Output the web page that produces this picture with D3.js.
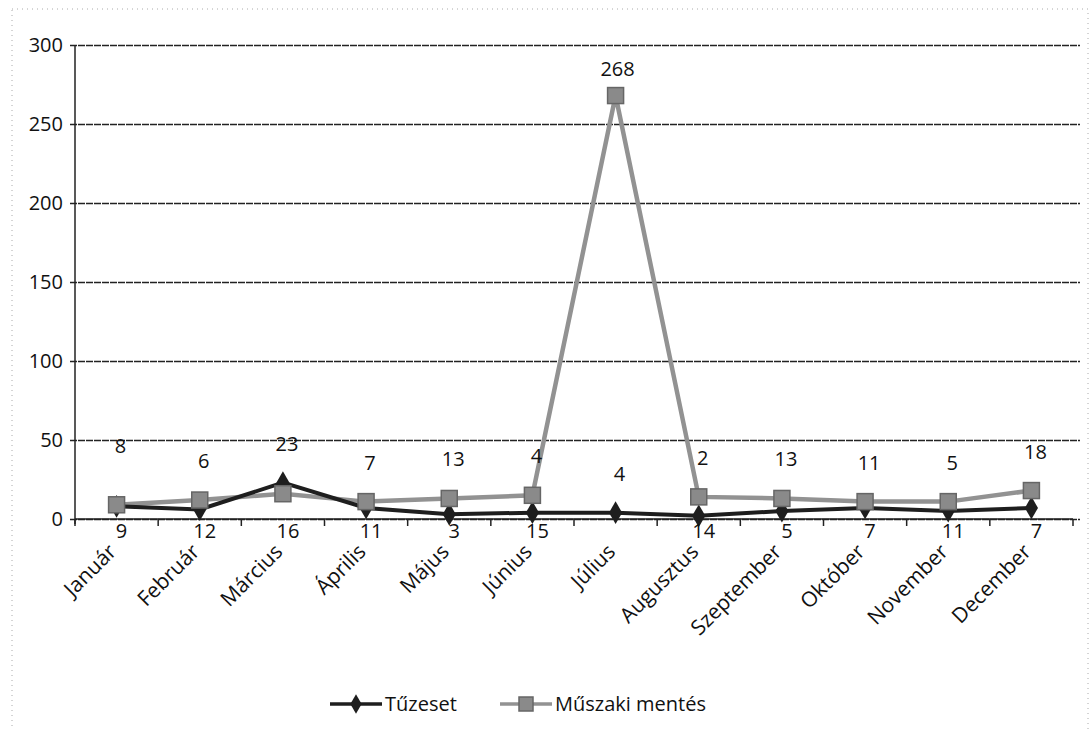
<!doctype html>
<html>
<head>
<meta charset="utf-8">
<script src="https://d3js.org/d3.v7.min.js"></script>
<style>
  body { margin: 0; background: #fff; }
  svg { font-family: "Open Sans", sans-serif; }
</style>
</head>
<body>
<svg id="chart" width="1090" height="730"></svg>
<script>
// months on the x axis
const months = ["Január", "Február", "Március", "Április", "Május", "Június",
  "Július", "Augusztus", "Szeptember", "Október", "November", "December"];
// series values
const tuzeset = [8, 6, 23, 7, 3, 4, 4, 2, 5, 7, 5, 7];
const muszaki = [9, 12, 16, 11, 13, 15, 268, 14, 13, 11, 11, 18];
// data labels as printed on the chart (upper row / lower row)
const upperLabels = ["8", "6", "23", "7", "13", "4", "4", "2", "13", "11", "5", "18"];
const lowerLabels = ["9", "12", "16", "11", "3", "15", "268", "14", "5", "7", "11", "7"];
const yTicks = [0, 50, 100, 150, 200, 250, 300];
const seriesNames = ["Tűzeset", "Műszaki mentés"];

const svg = d3.select("#chart");

// faint dotted page border from the scan
svg.append("rect")
  .attr("x", 12).attr("y", 9).attr("width", 1076).attr("height", 740)
  .attr("fill", "none").attr("stroke", "#aaa")
  .attr("stroke-width", 1).attr("stroke-dasharray", "1,4");

const x = d3.scaleBand().domain(months).range([75, 1073]);
const y = d3.scaleLinear().domain([0, 300]).range([519, 45]);
const cx = d => x(d) + x.bandwidth() / 2;

// gridlines + y axis
const yAxis = svg.append("g")
  .attr("transform", "translate(75,0)")
  .call(d3.axisLeft(y).tickValues(yTicks).tickSize(-1005).tickPadding(12));
yAxis.select(".domain").remove();
yAxis.selectAll(".tick line")
  .attr("x1", -5)
  .attr("stroke", "#222").attr("stroke-width", 1.5)
  .attr("stroke-dasharray", "7,1");
yAxis.selectAll(".tick text")
  .attr("font-size", 20).attr("fill", "#111")
  .attr("font-family", "Open Sans");

svg.append("line")
  .attr("x1", 75).attr("x2", 75).attr("y1", 45).attr("y2", 524)
  .attr("stroke", "#222").attr("stroke-width", 1.5);

// x axis with tick marks between categories
svg.append("line")
  .attr("x1", 75).attr("x2", 1073).attr("y1", y(0)).attr("y2", y(0))
  .attr("stroke", "#222").attr("stroke-width", 1.5);
svg.append("g").selectAll("line")
  .data(months.concat(["end"]))
  .join("line")
  .attr("x1", (d, i) => 75 + i * x.bandwidth())
  .attr("x2", (d, i) => 75 + i * x.bandwidth())
  .attr("y1", y(0)).attr("y2", y(0) + 7)
  .attr("stroke", "#222").attr("stroke-width", 1.5);

svg.append("g").selectAll("text")
  .data(months)
  .join("text")
  .attr("transform", d => "translate(" + (cx(d) + 1) + "," + (y(0) + 34) + ") rotate(-45)")
  .attr("text-anchor", "end")
  .attr("font-size", 21).attr("fill", "#111")
  .text(d => d);

// lines
const line = d3.line().x((d, i) => cx(months[i])).y(d => y(d));

svg.append("path").datum(muszaki)
  .attr("d", line).attr("fill", "none")
  .attr("stroke", "#929292").attr("stroke-width", 4.5);
svg.append("path").datum(tuzeset)
  .attr("d", line).attr("fill", "none")
  .attr("stroke", "#1e1e1e").attr("stroke-width", 4);

const diamond = d3.symbol().type(d3.symbolDiamond).size(150);

svg.append("g").selectAll("path")
  .data(tuzeset)
  .join("path")
  .attr("d", diamond)
  .attr("transform", (d, i) => "translate(" + cx(months[i]) + "," + y(d) + ")")
  .attr("fill", "#1e1e1e");

svg.append("g").selectAll("rect")
  .data(muszaki)
  .join("rect")
  .attr("x", (d, i) => cx(months[i]) - 8)
  .attr("y", d => y(d) - 8)
  .attr("width", 16).attr("height", 16)
  .attr("fill", "#8a8a8a").attr("stroke", "#666").attr("stroke-width", 1.5);

// data labels
svg.append("g").selectAll("text")
  .data(upperLabels)
  .join("text")
  .attr("x", (d, i) => cx(months[i]) + 4)
  .attr("y", (d, i) => {
    const base = muszaki[i] > 100 ? tuzeset[i] : Math.max(tuzeset[i], muszaki[i]);
    return y(base) - (i === 0 ? 52 : 32);
  })
  .attr("text-anchor", "middle")
  .attr("font-size", 20).attr("fill", "#111")
  .text(d => d);

svg.append("g").selectAll("text")
  .data(lowerLabels)
  .join("text")
  .attr("x", (d, i) => cx(months[i]) + (muszaki[i] > 100 ? 2 : 5))
  .attr("y", (d, i) => muszaki[i] > 100 ? y(muszaki[i]) - 20 : y(0) + 19)
  .attr("text-anchor", "middle")
  .attr("font-size", 20).attr("fill", "#111")
  .text(d => d);

// legend
const legend = svg.append("g").attr("transform", "translate(330,704)");
const lx = [0, 170];
legend.selectAll("line")
  .data(seriesNames)
  .join("line")
  .attr("x1", (d, i) => lx[i]).attr("x2", (d, i) => lx[i] + 52)
  .attr("y1", 0).attr("y2", 0)
  .attr("stroke", (d, i) => i === 0 ? "#1e1e1e" : "#929292")
  .attr("stroke-width", 3.5);
legend.append("path")
  .attr("d", d3.symbol().type(d3.symbolDiamond).size(110))
  .attr("transform", "translate(" + (lx[0] + 26) + ",0)")
  .attr("fill", "#1e1e1e");
legend.append("rect")
  .attr("x", lx[1] + 19).attr("y", -7).attr("width", 14).attr("height", 14)
  .attr("fill", "#8a8a8a").attr("stroke", "#666").attr("stroke-width", 1.5);
legend.selectAll("text")
  .data(seriesNames)
  .join("text")
  .attr("x", (d, i) => lx[i] + 55)
  .attr("y", 7)
  .attr("font-size", 20).attr("fill", "#111")
  .text(d => d);
</script>
</body>
</html>
